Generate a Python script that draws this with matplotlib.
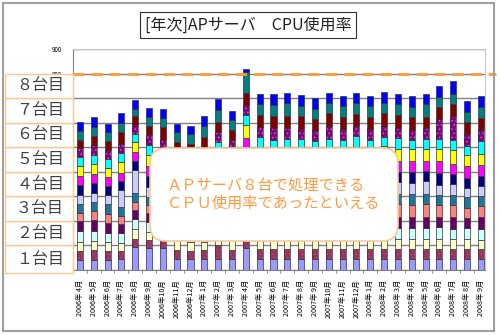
import matplotlib
matplotlib.use("Agg")
import matplotlib.pyplot as plt
from matplotlib.patches import Rectangle, FancyBboxPatch
from matplotlib.transforms import blended_transform_factory, IdentityTransform

plt.rcParams['font.family'] = ['Noto Sans CJK JP', 'DejaVu Sans']

months = ['2006年 4月', '2006年 5月', '2006年 6月', '2006年 7月', '2006年 8月', '2006年 9月',
          '2006年10月', '2006年11月', '2006年12月', '2007年 1月', '2007年 2月', '2007年 3月',
          '2007年 4月', '2007年 5月', '2007年 6月', '2007年 7月', '2007年 8月', '2007年 9月',
          '2007年10月', '2007年11月', '2007年12月', '2008年 1月', '2008年 2月', '2008年 3月',
          '2008年 4月', '2008年 5月', '2008年 6月', '2008年 7月', '2008年 8月', '2008年 9月']

# CPU使用率(%) 系列ごと、下から積み上げ順
ap01 = [41, 42, 40, 43, 93, 90, 91, 45, 45, 45, 45, 45, 91, 45, 45, 45, 44, 44, 45, 45, 45, 44, 44, 43, 43, 43, 43, 43, 43, 43]
ap02 = [38, 40, 38, 33, 34, 34, 35, 37, 34, 36, 57, 37, 38, 40, 40, 40, 40, 41, 40, 40, 41, 40, 41, 42, 42, 41, 41, 41, 41, 41]
ap03 = [37, 38, 36, 33, 38, 30, 35, 41, 36, 32, 30, 41, 45, 40, 40, 41, 40, 40, 40, 41, 40, 40, 42, 43, 43, 43, 43, 43, 43, 40]
ap04 = [41, 40, 38, 40, 41, 41, 38, 38, 36, 38, 40, 38, 50, 46, 45, 46, 46, 45, 46, 45, 46, 45, 45, 45, 45, 44, 47, 41, 44, 43]
ap05 = [41, 45, 40, 37, 38, 36, 36, 36, 35, 38, 40, 38, 50, 47, 46, 45, 46, 45, 46, 46, 46, 45, 44, 43, 43, 45, 40, 47, 39, 47]
ap06 = [34, 35, 36, 35, 33, 33, 34, 35, 34, 36, 38, 36, 52, 48, 47, 48, 46, 47, 47, 47, 48, 47, 48, 53, 50, 52, 50, 50, 44, 47]
ap07 = [37, 38, 40, 35, 35, 35, 36, 37, 36, 38, 40, 38, 55, 46, 46, 45, 46, 46, 46, 46, 46, 46, 44, 42, 42, 41, 41, 41, 43, 41]
ap08 = [37, 36, 36, 70, 97, 40, 38, 36, 35, 37, 55, 50, 55, 47, 46, 47, 46, 46, 46, 46, 47, 46, 47, 46, 47, 52, 43, 43, 35, 41]
ap09 = [41, 40, 38, 36, 34, 45, 36, 36, 36, 38, 51, 38, 59, 46, 45, 46, 46, 46, 46, 46, 46, 45, 45, 44, 46, 43, 47, 41, 43, 41]
ap10 = [34, 38, 36, 34, 37, 40, 38, 35, 34, 36, 40, 38, 41, 47, 46, 46, 47, 46, 46, 46, 47, 46, 50, 42, 41, 41, 47, 43, 50, 44]
ap11 = [42, 40, 38, 45, 41, 45, 40, 38, 38, 40, 45, 50, 54, 48, 48, 48, 48, 48, 48, 48, 48, 49, 54, 50, 49, 47, 49, 57, 43, 46]
ap12 = [38, 38, 36, 36, 34, 40, 36, 36, 35, 38, 40, 41, 41, 41, 37, 38, 38, 30, 37, 34, 47, 38, 38, 45, 39, 43, 41, 38, 38, 51]
ap13 = [35, 40, 38, 38, 34, 40, 38, 36, 36, 43, 41, 40, 41, 43, 47, 43, 43, 45, 55, 43, 38, 43, 46, 41, 41, 45, 81, 100, 47, 47]
ap14 = [33, 36, 36, 45, 37, 36, 50, 37, 43, 48, 41, 41, 47, 46, 51, 51, 50, 45, 50, 51, 51, 51, 51, 54, 51, 45, 51, 49, 50, 47]
ap15 = [38, 38, 36, 40, 31, 38, 36, 37, 40, 45, 50, 41, 88, 47, 41, 50, 42, 43, 43, 43, 43, 43, 43, 41, 41, 50, 39, 41, 41, 43]
ap16 = [35, 38, 33, 40, 37, 37, 37, 35, 34, 41, 42, 37, 11, 41, 45, 43, 46, 45, 41, 42, 43, 41, 42, 41, 47, 41, 45, 52, 43, 45]

series = [ap01, ap02, ap03, ap04, ap05, ap06, ap07, ap08,
          ap09, ap10, ap11, ap12, ap13, ap14, ap15, ap16]
colors = ['#9999FF', '#993366', '#FFFFCC', '#CCFFFF', '#660066', '#FF8080', '#1A7A8A', '#CCCCFF',
          '#000080', '#FF00FF', '#FFFF00', '#00FFFF', '#800080', '#800000', '#008080', '#0000FF']
dots = {6: '#3060FF', 12: '#D050D0', 1: '#A8486A'}

limit = 800
server_labels = ['１台目', '２台目', '３台目', '４台目', '５台目', '６台目', '７台目', '８台目']

W, H = 500, 335
fig = plt.figure(figsize=(W / 100, H / 100), dpi=100)
fig.patch.set_facecolor('white')

def fx(px):
    return px / W

def fy(py):
    return 1 - py / H

ax = fig.add_axes([fx(73), fy(270), fx(485) - fx(73), fy(49) - fy(270)])

x = list(range(len(months)))
bottom = [0] * len(months)
plt.rcParams['hatch.linewidth'] = 0.7
for i, (vals, c) in enumerate(zip(series, colors)):
    if i in dots:
        ax.bar(x, vals, 0.44, bottom=bottom, color=c, hatch='....', edgecolor=dots[i], linewidth=0, zorder=3)
        ax.bar(x, vals, 0.44, bottom=bottom, fill=False, edgecolor='#333333', linewidth=0.5, zorder=3)
    else:
        ax.bar(x, vals, 0.44, bottom=bottom, color=c, edgecolor='#333333', linewidth=0.5, zorder=3)
    bottom = [b + v for b, v in zip(bottom, vals)]

ax.set_xlim(-0.5, len(months) - 0.7)
ax.set_ylim(0, 900)
ax.set_yticks(range(0, 901, 100))
ax.set_yticklabels([str(v) for v in range(0, 901, 100)], fontsize=4.5)
ax.tick_params(axis='y', length=0, pad=8)
ax.grid(axis='y', color='#808080', linewidth=1, zorder=1)
ax.set_axisbelow(True)

ax.set_xticks(x)
ax.set_xticklabels(months, rotation=90, fontsize=5.2)
ax.tick_params(axis='x', length=0, pad=7)
ax.set_xticks([k + 0.5 for k in x[:-1]], minor=True)
ax.tick_params(axis='x', which='minor', length=2, color='#808080', width=0.6)

for side in ['top', 'right']:
    ax.spines[side].set_color('#C8C8C8')
for side in ['left', 'bottom']:
    ax.spines[side].set_color('#808080')

# 8台分の上限ライン
trans = blended_transform_factory(fig.transFigure, ax.transData)
ax.plot([fx(73), fx(496)], [limit, limit], transform=trans, color='#FF9933',
        linewidth=2, dashes=(4, 2.5), clip_on=False, zorder=5)

# 左の台数ラベル
for k, lab in enumerate(server_labels):
    y0 = k * 100 if k > 0 else -11
    ax.add_patch(Rectangle((fx(5), y0), fx(73) - fx(5), (k + 1) * 100 - y0,
                           transform=trans, facecolor='white', edgecolor='#FAC898',
                           linewidth=1, clip_on=False, zorder=6))
    ax.text(fx(40), (y0 + (k + 1) * 100) / 2, lab, transform=trans, ha='center', va='center',
            fontsize=11.5, color='#404040', zorder=7, clip_on=False)

# タイトル
fig.text(fx(248), fy(25), '[年次]APサーバ　CPU使用率', ha='center', va='center', fontsize=11.5,
         color='#222222',
         bbox=dict(boxstyle='square,pad=0.3', facecolor='white', edgecolor='#333333', linewidth=0.8))

# コメント吹き出し (ピクセル座標で角丸)
fig.patches.append(FancyBboxPatch((150, H - 241), 248, 93,
                                  boxstyle='round,pad=0,rounding_size=16', transform=IdentityTransform(),
                                  facecolor='white', edgecolor='#FAC898', linewidth=1.2, zorder=8))
fig.text(fx(167), fy(186), 'ＡＰサーバ８台で処理できる', ha='left', va='center', fontsize=11,
         color='#FF9A40', zorder=9)
fig.text(fx(167), fy(203), 'ＣＰＵ使用率であったといえる', ha='left', va='center', fontsize=11,
         color='#FF9A40', zorder=9)

# 外枠
fig.patches.append(Rectangle((fx(3), fy(331)), fx(494) - fx(3), fy(3) - fy(331),
                             transform=fig.transFigure, fill=False, edgecolor='#A0A0A0',
                             linewidth=1.5, zorder=10))

fig.savefig('out.png', dpi=100)
